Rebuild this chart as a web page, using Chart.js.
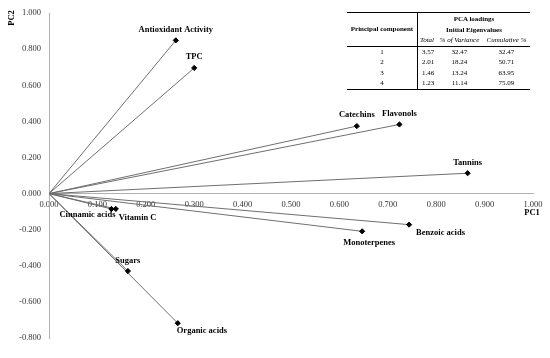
<!DOCTYPE html>
<html>
<head>
<meta charset="utf-8">
<script src="https://cdn.jsdelivr.net/npm/chart.js@4.4.0/dist/chart.umd.min.js"></script>
<style>
  body { margin: 0; background: #fff; }
  #wrap { position: relative; width: 550px; height: 358px; }
  #pca { position: absolute; left: 347px; top: 12px; width: 183px; border-collapse: collapse;
         font-family: "Liberation Serif", serif; font-size: 7px; color: #000; background: #fff;
         will-change: transform; }
  #pca td, #pca th { padding: 0; line-height: 10.5px; text-align: center; }
  #pca thead { border-top: 1.5px solid #000; }
  #pca tbody { border-top: 1.5px solid #000; border-bottom: 1.5px solid #000; }
  #pca .sep { border-left: 1px solid #000; }
  #pca th { font-weight: bold; }
  #pca .it { font-style: italic; font-weight: normal; }
</style>
</head>
<body>
<div id="wrap">
  <canvas id="pcaChart" width="550" height="358"></canvas>
  <table id="pca">
    <thead>
      <tr><th rowspan="3" style="width:70px">Principal component</th><th class="sep" colspan="3" style="padding-top:1px">PCA loadings</th></tr>
      <tr><th class="sep" colspan="3">Initial Eigenvalues</th></tr>
      <tr><th class="sep it" style="width:18px">Total</th><th class="it">% of Variance</th><th class="it">Cumulative %</th></tr>
    </thead>
    <tbody id="pcaRows"></tbody>
  </table>
</div>
<script>
// variables (loadings PC1 / PC2)
const variables = ["Antioxidant Activity", "TPC", "Catechins", "Flavonols", "Tannins", "Benzoic acids",
                   "Monoterpenes", "Cinnamic acids", "Vitamin C", "Sugars", "Organic acids"];
const pc1 = [0.262, 0.300, 0.636, 0.724, 0.865, 0.744, 0.647, 0.129, 0.138, 0.163, 0.266];
const pc2 = [0.849, 0.696, 0.374, 0.383, 0.113, -0.172, -0.209, -0.085, -0.085, -0.429, -0.718];

// eigenvalue table
const components = ["1", "2", "3", "4"];
const eigTotal = ["3.57", "2.01", "1.46", "1.23"];
const eigVariance = ["32.47", "18.24", "13.24", "11.14"];
const eigCumulative = ["32.47", "50.71", "63.95", "75.09"];

// where each label sits relative to its point: [dx, dy, align]
const labelPos = {
    "Antioxidant Activity": [0, -11, "center"], "TPC": [0, -11, "center"],
    "Catechins": [0, -11, "center"], "Flavonols": [0, -11, "center"],
    "Tannins": [0, -10, "center"], "Benzoic acids": [7, 8, "left"],
    "Monoterpenes": [7, 11, "center"], "Cinnamic acids": [4, 6, "right"],
    "Vitamin C": [3, 9, "left"], "Sugars": [0, -10, "center"], "Organic acids": [-1, 8, "left"]
};

const rows = components.map((c, i) =>
    `<tr><td>${c}</td><td class="sep" style="text-align:left;padding-left:4px">${eigTotal[i]}</td><td>${eigVariance[i]}</td><td>${eigCumulative[i]}</td></tr>`);
document.getElementById("pcaRows").innerHTML = rows.join("");

const serif = "'Liberation Serif', 'Times New Roman', serif";

const datasets = variables.map((v, i) => ({
    label: v,
    data: [{ x: 0, y: 0 }, { x: pc1[i], y: pc2[i] }],
    showLine: true,
    borderColor: "#6f6f6f",
    borderWidth: 1,
    pointStyle: "rectRot",
    pointRadius: [0, 2.6],
    pointBackgroundColor: "#000",
    pointBorderColor: "#000"
}));

const textPlugin = {
    id: "pcaText",
    afterDatasetsDraw(chart) {
        const { ctx, scales: { x, y } } = chart;
        ctx.save();
        ctx.fillStyle = "#000";
        ctx.font = "bold 8.5px " + serif;
        ctx.textBaseline = "middle";
        variables.forEach((v, i) => {
            const p = labelPos[v];
            ctx.textAlign = p[2];
            ctx.fillText(v, x.getPixelForValue(pc1[i]) + p[0], y.getPixelForValue(pc2[i]) + p[1]);
        });
        // axis titles
        ctx.textAlign = "center";
        ctx.fillText("PC1", 532, 213);
        ctx.translate(12, 18);
        ctx.rotate(-Math.PI / 2);
        ctx.fillText("PC2", 0, 0);
        ctx.restore();
    }
};

new Chart(document.getElementById("pcaChart").getContext("2d"), {
    type: "scatter",
    data: { datasets },
    options: {
        responsive: false,
        animation: false,
        layout: { padding: { left: 0, top: 8, right: 17, bottom: 20 } },
        plugins: { legend: { display: false }, tooltip: { enabled: false } },
        scales: {
            x: {
                type: "linear", min: 0, max: 1, position: { y: 0 },
                grid: { display: false, drawTicks: false },
                border: { color: "#b0b0b0", width: 1 },
                ticks: { stepSize: 0.1, padding: 6, color: "#333", font: { family: serif, size: 8.5 },
                         maxRotation: 0, callback: v => v.toFixed(3) }
            },
            y: {
                type: "linear", min: -0.8, max: 1, position: "left",
                afterFit: s => { s.width = 49; },
                grid: { display: false, drawTicks: false },
                border: { color: "#b0b0b0", width: 1 },
                ticks: { stepSize: 0.2, padding: 8, color: "#333", font: { family: serif, size: 8.5 },
                         callback: v => v.toFixed(3) }
            }
        }
    },
    plugins: [textPlugin]
});
</script>
</body>
</html>
